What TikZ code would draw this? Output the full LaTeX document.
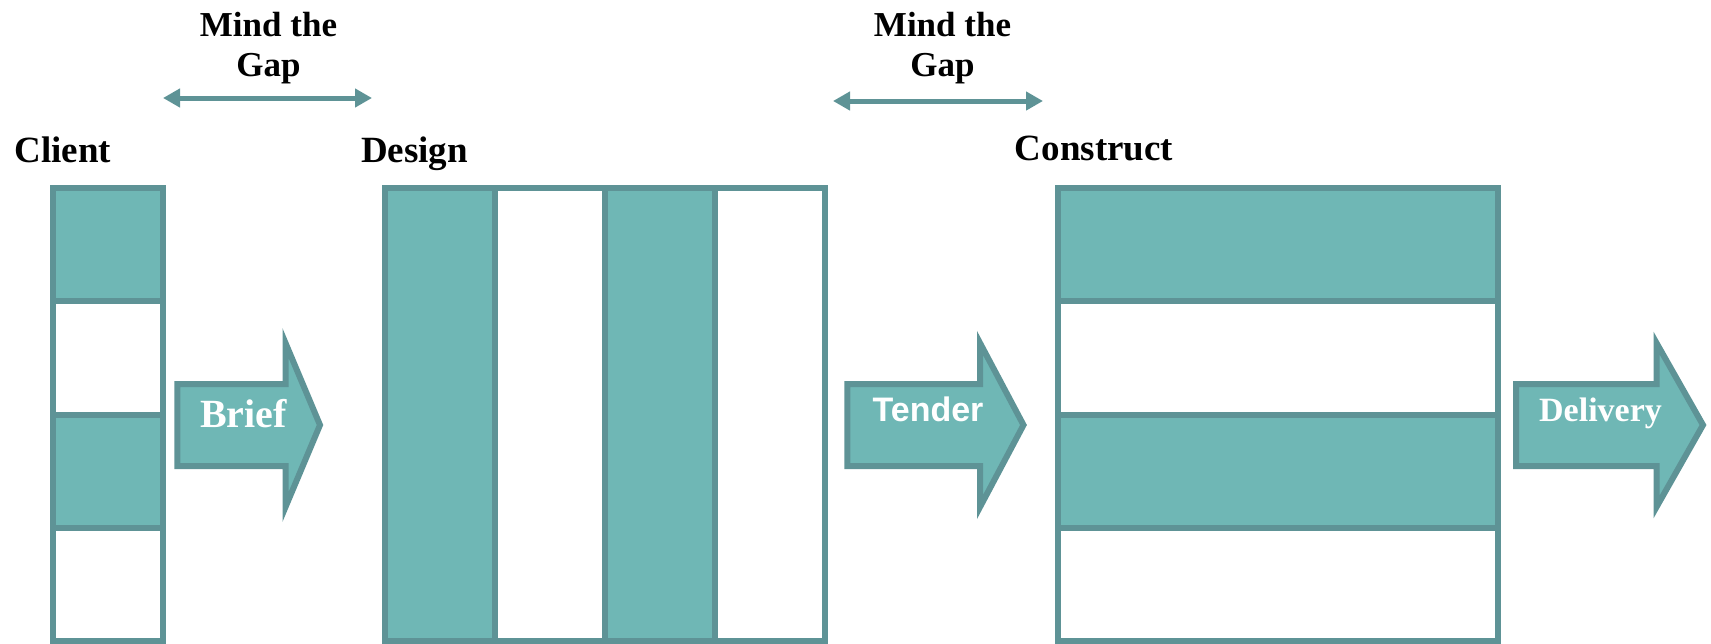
\documentclass[tikz,border=0pt]{standalone}
\usepackage{fontspec}
\setmainfont{Liberation Serif}
\newfontfamily\arialfont{Liberation Sans}
\usetikzlibrary{arrows.meta}

\definecolor{tealfill}{RGB}{111,183,181}
\definecolor{tealline}{RGB}{94,147,150}

\begin{document}
\begin{tikzpicture}[x=1pt,y=-1pt,
  cell/.style={draw=tealline,line width=6pt,inner sep=0pt,outer sep=0pt,anchor=north west},
  fullcell/.style={cell,fill=tealfill},
  emptycell/.style={cell,fill=white},
  heading/.style={font=\fontsize{37}{44}\selectfont\bfseries,inner sep=0pt,anchor=base},
  gaplabel/.style={font=\fontsize{35}{40}\selectfont\bfseries,align=center,inner sep=0pt,anchor=north},
  gaparrow/.style={draw=tealline,line width=5pt,
    {Triangle[length=17pt,width=18pt]}-{Triangle[length=17pt,width=18pt]}},
  blockarrow/.style={draw=tealline,fill=tealfill,line width=6pt,line join=miter},
  arrowtext/.style={text=white,inner sep=0pt,anchor=base}
]
\useasboundingbox (0,0) rectangle (1711,643);

% ---- Client column: four stacked cells
\node[fullcell,minimum width=110pt,minimum height=113.25pt]  (cl1) at (53,188) {};
\node[emptycell,minimum width=110pt,minimum height=113.25pt] (cl2) at (53,301.25) {};
\node[fullcell,minimum width=110pt,minimum height=113.25pt]  (cl3) at (53,414.5) {};
\node[emptycell,minimum width=110pt,minimum height=113.25pt] (cl4) at (53,527.75) {};

% ---- Design block: four side-by-side columns
\node[fullcell,minimum width=110pt,minimum height=453pt]  (de1) at (385,188) {};
\node[emptycell,minimum width=110pt,minimum height=453pt] (de2) at (495,188) {};
\node[fullcell,minimum width=110pt,minimum height=453pt]  (de3) at (605,188) {};
\node[emptycell,minimum width=110pt,minimum height=453pt] (de4) at (715,188) {};

% ---- Construct block: four horizontal bands
\node[fullcell,minimum width=439.5pt,minimum height=113.25pt]  (co1) at (1058,188) {};
\node[emptycell,minimum width=439.5pt,minimum height=113.25pt] (co2) at (1058,301.25) {};
\node[fullcell,minimum width=439.5pt,minimum height=113.25pt]  (co3) at (1058,414.5) {};
\node[emptycell,minimum width=439.5pt,minimum height=113.25pt] (co4) at (1058,527.75) {};

% ---- headings
\node[heading] (client)    at (63,162)    {Client};
\node[heading] (design)    at (414.5,162) {Design};
\node[heading] (construct) at (1094,160)  {Construct};

% ---- gap markers
\node[gaplabel] (gap1) at (268.5,12.3) {Mind the\\Gap};
\node[gaplabel] (gap2) at (942.5,12.3) {Mind the\\Gap};
\coordinate (g1a) at (163,98);
\coordinate (g1b) at (372,98);
\coordinate (g2a) at (833,101);
\coordinate (g2b) at (1043,101);
\draw[gaparrow] (g1a) -- (g1b);
\draw[gaparrow] (g2a) -- (g2b);

% ---- block arrows between stages
\draw[blockarrow] (177.3,384) -- (285.5,384) -- (285.5,343) -- (320,425)
  -- (285.5,507) -- (285.5,466) -- (177.3,466) -- cycle;
\node[arrowtext,font=\fontsize{40}{48}\selectfont\bfseries] (brief) at (243.5,427) {Brief};

\draw[blockarrow] (847.3,384) -- (980,384) -- (980,343) -- (1023.5,425)
  -- (980,507) -- (980,466) -- (847.3,466) -- cycle;
\node[arrowtext,font=\arialfont\fontsize{34}{40}\selectfont\bfseries] (tender) at (928,421.7) {Tender};

\draw[blockarrow] (1516,384) -- (1656.5,384) -- (1656.5,343) -- (1703,425)
  -- (1656.5,507) -- (1656.5,466) -- (1516,466) -- cycle;
\node[arrowtext,font=\fontsize{34}{40}\selectfont\bfseries] (delivery) at (1600.5,421.7) {Delivery};
\end{tikzpicture}
\end{document}
